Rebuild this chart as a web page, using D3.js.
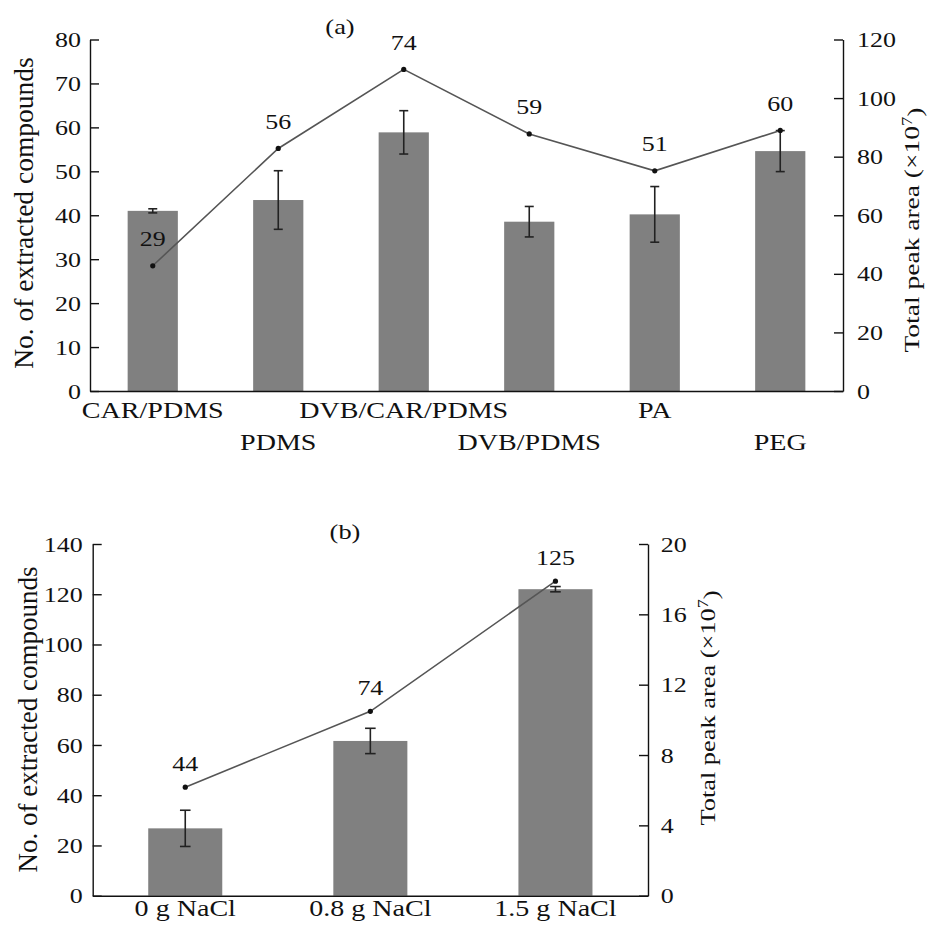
<!DOCTYPE html>
<html>
<head>
<meta charset="utf-8">
<script src="https://cdn.jsdelivr.net/npm/d3@7"></script>
<style>
  body { margin: 0; background: #fff; }
  svg text { font-family: "Liberation Serif", "Times New Roman", serif; fill: #111; }
</style>
</head>
<body>
<div id="chart"></div>
<script>
// values
var fibers = ["CAR/PDMS", "PDMS", "DVB/CAR/PDMS", "DVB/PDMS", "PA", "PEG"];
var fiberArea = [61.5, 65.2, 88.3, 57.8, 60.3, 81.9];       // total peak area (x10^7), bars
var fiberAreaErr = [0.7, 10, 7.4, 5.2, 9.5, 7];
var fiberCount = [28.5, 55.2, 73.2, 58.5, 50.1, 59.3];      // no. of compounds, line
var fiberCountLabels = ["29", "56", "74", "59", "51", "60"];
var fiberLeftTicks = [0, 10, 20, 30, 40, 50, 60, 70, 80];
var fiberRightTicks = [0, 20, 40, 60, 80, 100, 120];

var salts = ["0 g NaCl", "0.8 g NaCl", "1.5 g NaCl"];
var saltArea = [3.83, 8.8, 17.43];
var saltAreaErr = [1.03, 0.72, 0.15];
var saltCount = [43.2, 73.4, 125.2];
var saltCountLabels = ["44", "74", "125"];
var saltLeftTicks = [0, 20, 40, 60, 80, 100, 120, 140];
var saltRightTicks = [0, 4, 8, 12, 16, 20];

var svg = d3.select("#chart").append("svg")
	.attr("width", 928)
	.attr("height", 931);

// text in the figure is a little wider than plain Times, so stretch it
function label(g, x, y, s, size, sx, rot) {
	return g.append("text")
		.attr("transform", "translate(" + x + "," + y + ")" + (rot ? " rotate(-90)" : "") + " scale(" + sx + ",1)")
		.attr("text-anchor", "middle")
		.style("font-size", size + "px")
		.text(s);
}

function panel(p) {
	var g = svg.append("g");

	var x = d3.scaleBand()
		.domain(p.cats)
		.range([p.left, p.right])
		.paddingInner(0.6)
		.paddingOuter(0.3);
	var yL = d3.scaleLinear().domain([0, p.leftMax]).range([p.bottom, p.top]);
	var yR = d3.scaleLinear().domain([0, p.rightMax]).range([p.bottom, p.top]);

	// bars (right axis)
	g.selectAll(".bar")
		.data(p.area)
		.enter()
		.append("rect")
		.attr("class", "bar")
		.attr("x", function(d, i) { return x(p.cats[i]); })
		.attr("width", x.bandwidth())
		.attr("y", function(d) { return yR(d); })
		.attr("height", function(d) { return p.bottom - yR(d); })
		.style("fill", "#808080");

	// error bars
	var eb = g.selectAll(".err")
		.data(p.area)
		.enter()
		.append("g")
		.attr("class", "err")
		.attr("transform", function(d, i) { return "translate(" + (x(p.cats[i]) + x.bandwidth() / 2) + ",0)"; })
		.style("stroke", "#222")
		.style("stroke-width", 1.6);
	eb.append("line")
		.attr("y1", function(d, i) { return yR(d + p.err[i]); })
		.attr("y2", function(d, i) { return yR(d - p.err[i]); });
	[1, -1].forEach(function(s) {
		eb.append("line")
			.attr("x1", -p.cap).attr("x2", p.cap)
			.attr("y1", function(d, i) { return yR(d + s * p.err[i]); })
			.attr("y2", function(d, i) { return yR(d + s * p.err[i]); });
	});

	// line (left axis)
	var line = d3.line()
		.x(function(d, i) { return x(p.cats[i]) + x.bandwidth() / 2; })
		.y(function(d) { return yL(d); });
	g.append("path")
		.datum(p.count)
		.attr("d", line)
		.style("fill", "none")
		.style("stroke", "#555")
		.style("stroke-width", 1.6);
	g.selectAll(".pt")
		.data(p.count)
		.enter()
		.append("circle")
		.attr("class", "pt")
		.attr("cx", function(d, i) { return x(p.cats[i]) + x.bandwidth() / 2; })
		.attr("cy", function(d) { return yL(d); })
		.attr("r", 2.6)
		.style("fill", "#111");
	p.count.forEach(function(d, i) {
		label(g, x(p.cats[i]) + x.bandwidth() / 2, yL(d) - p.lblOff, p.countLabels[i], 22, 1.18);
	});

	// axes
	var leftAxis = g.append("g")
		.attr("transform", "translate(" + p.left + ",0)")
		.call(d3.axisLeft(yL).tickValues(p.leftTicks).tickSizeInner(-9).tickSizeOuter(0).tickPadding(0));
	leftAxis.selectAll("text")
		.attr("x", 0)
		.attr("transform", "translate(" + (-p.lPad) + ",0) scale(1.18,1)");

	var rightAxis = g.append("g")
		.attr("transform", "translate(" + p.right + ",0)")
		.call(d3.axisRight(yR).tickValues(p.rightTicks).tickSizeInner(-9).tickSizeOuter(0).tickPadding(0));
	rightAxis.selectAll("text")
		.attr("x", 0)
		.attr("transform", "translate(" + p.rPad + ",0) scale(1.18,1)");

	var bottomAxis = g.append("g")
		.attr("transform", "translate(0," + p.bottom + ")")
		.call(d3.axisBottom(x).tickSize(0).tickSizeOuter(0));
	bottomAxis.selectAll("text").remove();

	[leftAxis, rightAxis, bottomAxis].forEach(function(a) {
		a.selectAll("path, line").style("stroke", "#111").style("stroke-width", 1.4);
		a.selectAll("text").style("font-size", "22px").style("font-family", null);
	});

	// category labels, staggered when asked
	p.cats.forEach(function(c, i) {
		var yy = p.stagger && i % 2 === 1 ? p.catY2 : p.catY1;
		label(g, x(c) + x.bandwidth() / 2, yy, c, 23, 1.22);
	});

	// panel tag and axis titles
	label(g, p.tagX, p.tagY, p.tag, 22, 1.2);
	label(g, p.lTitleX, p.lTitleY, "No. of extracted compounds", p.lTitleSize, 1, true);
	var rt = label(g, p.rTitleX, p.rTitleY, "", 22, p.rTitleSx, true);
	rt.append("tspan").text("Total peak area (\u00d710");
	rt.append("tspan").attr("dy", "-0.45em").style("font-size", "15px").text("7");
	rt.append("tspan").attr("dy", "0.45em").text(")");
}

panel({
	cats: fibers, area: fiberArea, err: fiberAreaErr,
	count: fiberCount, countLabels: fiberCountLabels,
	leftMax: 80, rightMax: 120,
	leftTicks: fiberLeftTicks, rightTicks: fiberRightTicks,
	left: 90, right: 843, top: 39.5, bottom: 391,
	cap: 4.5, lblOff: 19.5, lPad: 9, rPad: 14,
	stagger: true, catY1: 418, catY2: 450,
	tag: "(a)", tagX: 340, tagY: 34,
	lTitleX: 33, lTitleY: 213, lTitleSize: 27.5,
	rTitleX: 919, rTitleY: 230, rTitleSx: 1.25
});

panel({
	cats: salts, area: saltArea, err: saltAreaErr,
	count: saltCount, countLabels: saltCountLabels,
	leftMax: 140, rightMax: 20,
	leftTicks: saltLeftTicks, rightTicks: saltRightTicks,
	left: 92.7, right: 648, top: 544, bottom: 895.7,
	cap: 5.3, lblOff: 16.5, lPad: 10, rPad: 12.7,
	stagger: false, catY1: 916, catY2: 916,
	tag: "(b)", tagX: 345, tagY: 539,
	lTitleX: 37, lTitleY: 719.5, lTitleSize: 27,
	rTitleX: 715, rTitleY: 708, rTitleSx: 1.2
});
</script>
</body>
</html>
